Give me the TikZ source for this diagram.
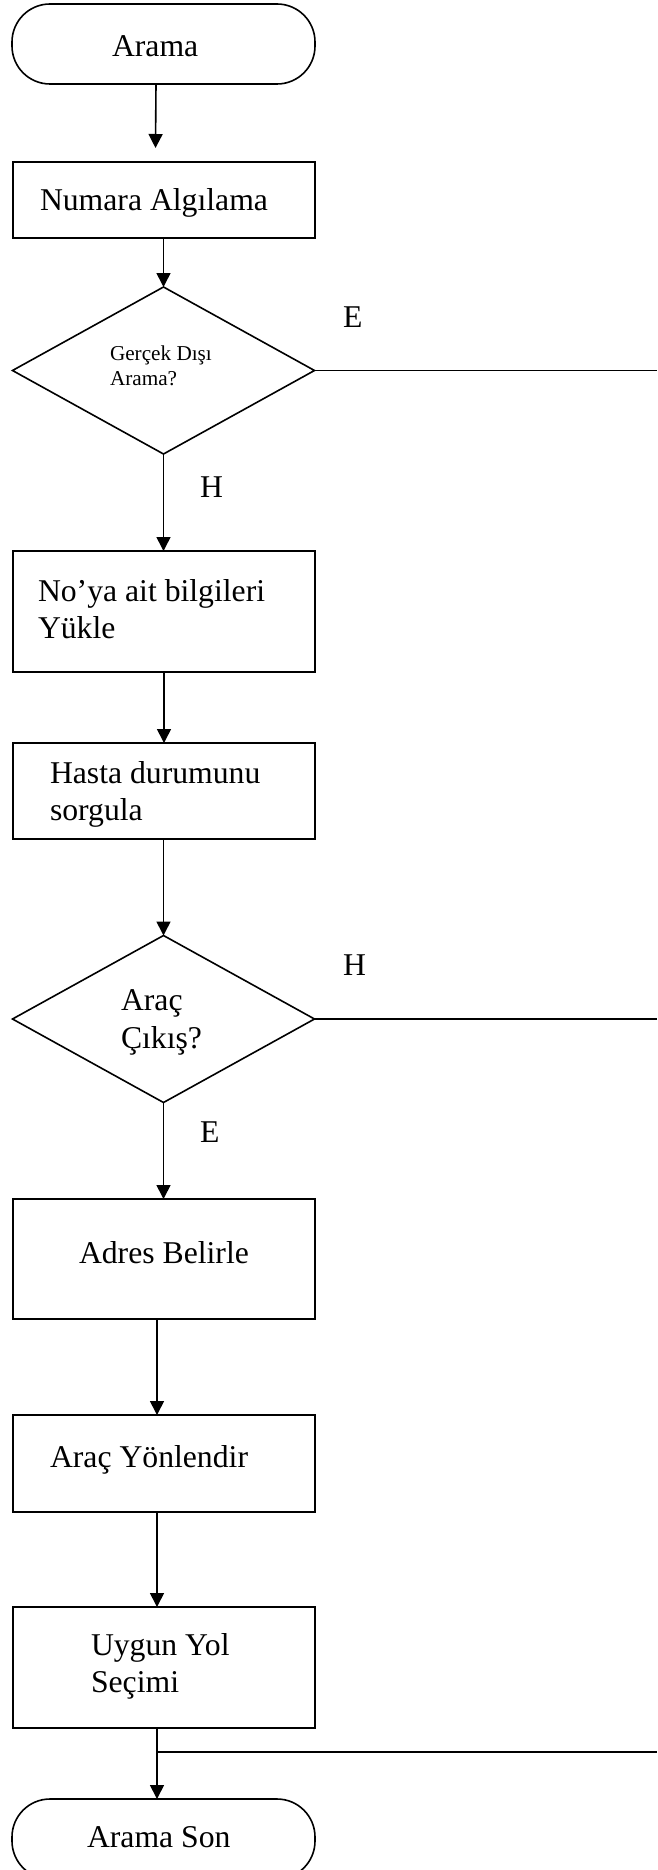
\documentclass[tikz,border=0pt]{standalone}
\usepackage{fontspec}
\setmainfont{Liberation Serif}
\usetikzlibrary{arrows.meta,shapes.geometric,calc}

\begin{document}
\begin{tikzpicture}[x=1pt,y=-1pt,
  every node/.style={inner sep=0pt,outer sep=0pt},
  line/.style={line width=1.6pt},
  arr/.style={line,-{Triangle[length=14pt,width=14pt]}},
  procbox/.style={draw,line width=1.6pt,minimum width=302pt,anchor=north west},
  termbox/.style={draw,line width=1.6pt,minimum width=303pt,minimum height=80pt,
                  rounded corners=38pt,anchor=north west},
  decision/.style={draw,diamond,line width=1.6pt,minimum width=302pt,minimum height=167pt},
  txt/.style={anchor=base west,font=\fontsize{31.7pt}{37pt}\selectfont},
  smalltxt/.style={anchor=base west,font=\fontsize{21.2pt}{25pt}\selectfont}
]
\clip (0,0) rectangle (657,1870);

% shapes of the flow
\node[termbox] (arama) at (12,4) {};
\node[procbox,minimum height=76pt] (numara) at (13,162) {};
\node[decision] (d1) at (163.5,370.5) {};
\node[procbox,minimum height=121pt] (noya) at (13,551) {};
\node[procbox,minimum height=96pt] (hasta) at (13,743) {};
\node[decision] (d2) at (163.5,1019) {};
\node[procbox,minimum height=120pt] (adres) at (13,1199) {};
\node[procbox,minimum height=97pt] (yon) at (13,1415) {};
\node[procbox,minimum height=121pt] (yol) at (13,1607) {};
\node[termbox] (son) at (12,1799) {};

% texts
\node[txt] (t-arama) at (112,57) {Arama};
\node[txt] (t-numara) at (40,211) {Numara Algılama};
\node[smalltxt] (t-d1a) at (110,360) {Gerçek Dışı};
\node[smalltxt] (t-d1b) at (110,385) {Arama?};
\node[txt] (t-e1) at (343,327) {E};
\node[txt] (t-h1) at (200,497) {H};
\node[txt] (t-noya1) at (38,601) {No’ya ait bilgileri};
\node[txt] (t-noya2) at (38,638) {Yükle};
\node[txt] (t-hasta1) at (50,783) {Hasta durumunu};
\node[txt] (t-hasta2) at (50,820) {sorgula};
\node[txt] (t-d2a) at (121,1010) {Araç};
\node[txt] (t-d2b) at (121,1048) {Çıkış?};
\node[txt] (t-h2) at (343,975) {H};
\node[txt] (t-e2) at (200,1142) {E};
\node[txt] (t-adres) at (79,1263) {Adres Belirle};
\node[txt] (t-yon) at (50,1467) {Araç Yönlendir};
\node[txt] (t-yol1) at (91,1655) {Uygun Yol};
\node[txt] (t-yol2) at (91,1692) {Seçimi};
\node[txt] (t-son) at (87,1847) {Arama Son};

% free ends at the right edge
\coordinate (e1) at (657,370.5);
\coordinate (e2) at (657,1019);
\coordinate (e3) at (657,1752);
\coordinate (j) at (157,1752);

% connectors
\draw[arr] ([xshift=-7.5pt]arama.south) -- ([xshift=-8.5pt,yshift=14pt]numara.north);
\draw[arr] (d1.north |- numara.south) -- (d1.north);
\draw[line] (d1.east) -- (e1);
\draw[arr] (d1.south) -- (d1.south |- noya.north);
\draw[arr] (noya.south) -- (hasta.north);
\draw[arr] (d2.north |- hasta.south) -- (d2.north);
\draw[line] (d2.east) -- (e2);
\draw[arr] (d2.south) -- (d2.south |- adres.north);
\draw[arr] (j |- adres.south) -- (j |- yon.north);
\draw[arr] (j |- yon.south) -- (j |- yol.north);
\draw[arr] (j |- yol.south) -- (j |- son.north);
\draw[line] (j) -- (e3);
\end{tikzpicture}
\end{document}
